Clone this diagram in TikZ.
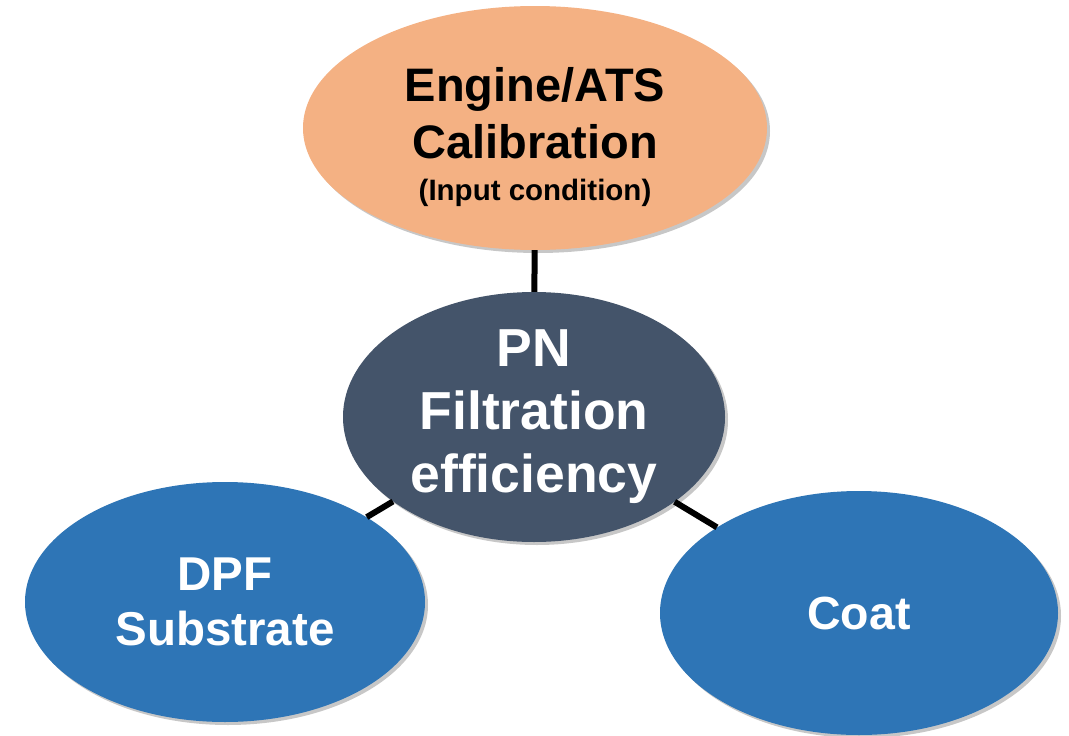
\documentclass[tikz,border=0pt]{standalone}
\usepackage{fontspec}
\setmainfont{Liberation Sans}
\usetikzlibrary{shapes.geometric,shadows}
\definecolor{engorange}{HTML}{F4B183}
\definecolor{pnslate}{HTML}{44546A}
\definecolor{partblue}{HTML}{2E75B6}
\begin{document}
\begin{tikzpicture}[x=1pt,y=-1pt,
  bubble/.style={ellipse, inner sep=0pt, align=center,
    drop shadow={shadow xshift=3pt, shadow yshift=-3pt, fill=black, opacity=0.22}},
  link/.style={line width=6pt, black}]
\useasboundingbox (0,0) rectangle (1069,736);
\node[bubble, fill=engorange, minimum width=464pt, minimum height=244pt, text=black,
  font=\fontsize{47}{57}\selectfont\bfseries] (eng) at (535,128)
  {\rule{0pt}{53pt}Engine/ATS\\Calibration\\[-15pt]{\fontsize{29.5}{36}\selectfont (Input condition)}};
\node[bubble, fill=pnslate, minimum width=382pt, minimum height=250pt, text=white,
  font=\fontsize{53.5}{63}\selectfont\bfseries] (pn) at (534,417)
  {PN\\Filtration\\efficiency};
\node[bubble, fill=partblue, minimum width=400pt, minimum height=240pt, text=white,
  font=\fontsize{47.5}{55}\selectfont\bfseries] (dpf) at (225,602)
  {DPF\\Substrate};
\node[bubble, fill=partblue, minimum width=398pt, minimum height=244pt, text=white,
  font=\fontsize{46.5}{55}\selectfont\bfseries] (coat) at (859,613)
  {Coat};
\draw[link] (eng) -- (pn);
\draw[link] (dpf) -- (pn);
\draw[link] (coat) -- (pn);
\end{tikzpicture}
\end{document}
